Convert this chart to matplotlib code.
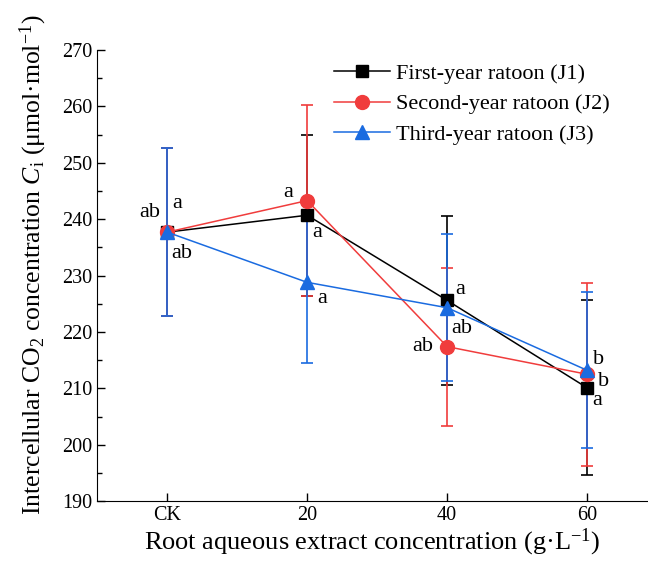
import numpy as np
import matplotlib.pyplot as plt
from matplotlib.lines import Line2D

plt.rcParams['font.family'] = ['Liberation Serif', 'DejaVu Serif']
plt.rcParams['mathtext.fontset'] = 'custom'
plt.rcParams['mathtext.rm'] = 'Liberation Serif'
plt.rcParams['mathtext.it'] = 'Liberation Serif:italic'

categories = ['CK', '20', '40', '60']
j1_mean = [237.7, 240.7, 225.6, 210.1]
j1_err = [14.9, 14.3, 15.0, 15.5]
j2_mean = [237.7, 243.3, 217.4, 212.5]
j2_err = [14.9, 17.0, 14.0, 16.2]
j3_mean = [237.7, 228.8, 224.3, 213.2]
j3_err = [14.9, 14.3, 13.0, 13.8]

j1_letters = ['ab', 'a', 'a', 'a']
j2_letters = ['a', 'a', 'ab', 'b']
j3_letters = ['ab', 'a', 'ab', 'b']

# label offsets in pixels, relative to each point
j1_offs = [(-17, 20), (10, -17), (13, 11), (10, -13)]
j2_offs = [(10, 29), (-19, 8), (-24, 0), (16, -7)]
j3_offs = [(15, -21), (15, -16), (15, -21), (11, 11)]

x = np.arange(len(categories))

fig = plt.figure(figsize=(6.48, 5.65), dpi=100)
ax = fig.add_axes([0.150, 0.113, 0.85, 0.7985])

series = [
    ('First-year ratoon (J1)', j1_mean, j1_err, 'black', 's', 8.5, j1_letters, j1_offs),
    ('Second-year ratoon (J2)', j2_mean, j2_err, '#F03C3C', 'o', 10, j2_letters, j2_offs),
    ('Third-year ratoon (J3)', j3_mean, j3_err, '#1A6BE0', '^', 10, j3_letters, j3_offs),
]

handles = []
for label, m, e, c, mk, ms, letters, offs in series:
    ax.errorbar(x, m, yerr=e, color=c, marker=mk, markersize=ms, lw=1.1,
                elinewidth=1.2, capsize=4, capthick=1.2)
    handles.append(Line2D([], [], color=c, marker=mk, markersize=ms, lw=1.1, label=label))
    for xi, yi, t, o in zip(x, m, letters, offs):
        ax.annotate(t, (xi, yi), xytext=o, textcoords='offset pixels',
                    ha='center', va='center', fontsize=16)

ax.set_xlim(-0.5, 3.435)
ax.set_ylim(190, 270)
ax.set_xticks(x)
ax.set_xticklabels(categories)
ax.set_yticks(np.arange(190, 271, 10))
ax.set_yticks(np.arange(195, 270, 10), minor=True)
ax.tick_params(direction='in', labelsize=14.5, length=6, width=1)
ax.tick_params(which='minor', direction='in', length=3.5, width=1)
ax.spines['top'].set_visible(False)
ax.spines['right'].set_visible(False)

ax.set_xlabel('Root aqueous extract concentration (g·L$^{-1}$)', fontsize=19, labelpad=1)
ax.set_ylabel('Intercellular CO$_2$ concentration $C_\\mathrm{i}$ (μmol·mol$^{-1}$)',
              fontsize=18.5)
ax.yaxis.set_label_coords(-0.088, 0.525)

ax.legend(handles=handles, loc='upper left', bbox_to_anchor=(0.41, 0.995), frameon=False,
          fontsize=16, handlelength=2.5, handletextpad=0.3, labelspacing=0.45, borderpad=0)

fig.savefig('out.png', dpi=100)
